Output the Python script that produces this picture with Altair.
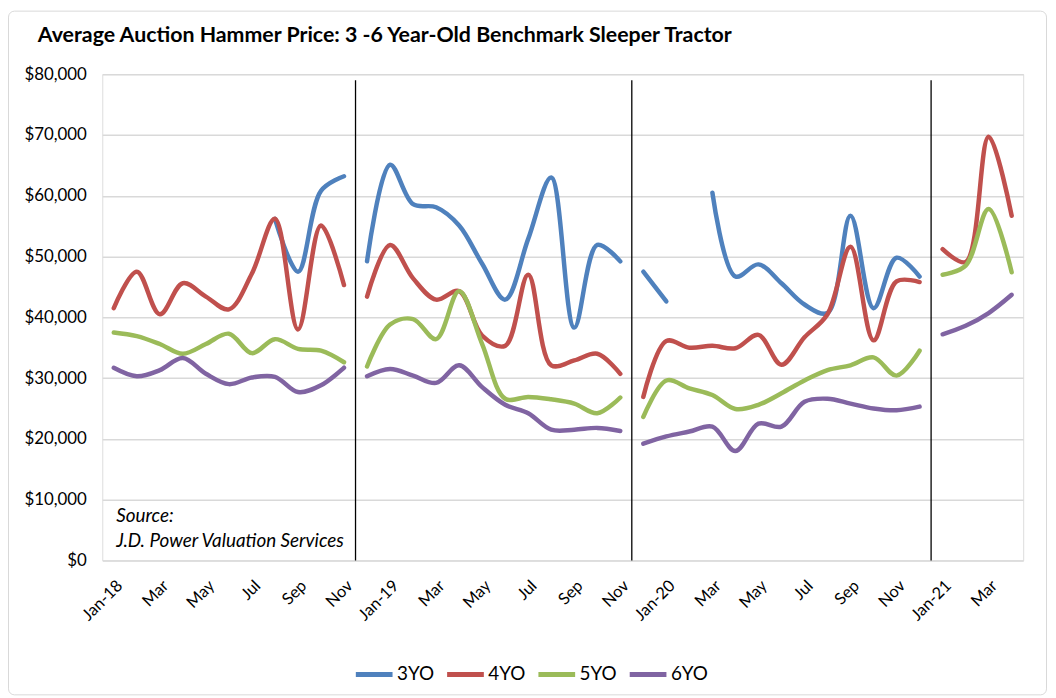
import altair as alt
import pandas as pd

series_names = ["3YO", "4YO", "5YO", "6YO"]
series_colors = ["#4F81BD", "#C0504D", "#9BBB59", "#8064A2"]
N = None

# values in $ thousands, month index 0 = Jan-18 ... 39 = Apr-21
yo3 = [N, N, N, N, N, N, N, 56.2, 47.5, 60.8, 63.2,
       49.2, 65.1, 58.6, 58.1, 55.1, 48.8, 42.9, 52.9, 63.0, 38.3, 51.9, 49.2,
       47.5, 42.6, N, 60.5, 46.7, 48.7, 45.6, 42.1, 40.7, 56.7, 41.5, 49.8, 46.7,
       N, N, N, N]
yo4 = [41.5, 47.5, 40.5, 45.6, 43.4, 41.3, 47.2, 56.2, 38.0, 55.1, 45.3,
       43.4, 51.9, 46.4, 42.9, 44.3, 37.0, 35.3, 47.0, 32.1, 32.9, 34.0, 30.7,
       26.9, 36.1, 35.0, 35.3, 34.9, 37.1, 32.2, 36.7, 40.5, 51.6, 36.2, 45.9, 45.8,
       51.2, 49.1, 69.7, 56.7]
yo5 = [37.5, 36.9, 35.6, 34.0, 35.6, 37.3, 34.1, 36.4, 34.8, 34.5, 32.6,
       31.9, 38.8, 39.7, 36.4, 44.3, 35.6, 26.6, 26.9, 26.5, 25.8, 24.2, 26.8,
       23.6, 29.6, 28.3, 27.2, 24.9, 25.6, 27.5, 29.6, 31.3, 32.1, 33.4, 30.4, 34.5,
       47.0, 48.5, 57.8, 47.4]
yo6 = [31.7, 30.3, 31.3, 33.3, 30.7, 29.0, 30.1, 30.2, 27.7, 28.8, 31.7,
       30.3, 31.5, 30.4, 29.2, 32.1, 28.5, 25.6, 24.2, 21.5, 21.5, 21.8, 21.3,
       19.2, 20.4, 21.2, 22.0, 18.0, 22.5, 22.0, 26.1, 26.6, 25.8, 25.0, 24.7, 25.3,
       37.2, 38.6, 40.7, 43.7]

segment_starts = [0, 11, 23, 36]
separators = [10.5, 22.5, 35.5]
tick_labels = ["Jan-18", "Mar", "May", "Jul", "Sep", "Nov",
               "Jan-19", "Mar", "May", "Jul", "Sep", "Nov",
               "Jan-20", "Mar", "May", "Jul", "Sep", "Nov",
               "Jan-21", "Mar"]

rows = []
for name, vals in zip(series_names, [yo3, yo4, yo5, yo6]):
    seg = 0
    prev_none = True
    for i, v in enumerate(vals):
        if v is None:
            prev_none = True
            continue
        if i in segment_starts or prev_none:
            seg += 1
        prev_none = False
        rows.append({"m": i, "value": v * 1000, "series": name, "seg": f"{name}-{seg}"})
df = pd.DataFrame(rows)

FONT = "Lato"
label_expr = "[" + ",".join(f"'{l}'" for l in tick_labels) + "][round(datum.value/2)]"

x_enc = alt.X("m:Q", scale=alt.Scale(domain=[-0.5, 39.5], nice=False, zero=False),
              axis=alt.Axis(values=list(range(0, 40, 2)), labelExpr=label_expr,
                            labelAngle=315, labelAlign="right", labelBaseline="top",
                            labelFontSize=16.5, labelColor="#000000", labelFont=FONT,
                            grid=False, ticks=False, domain=False, title=None,
                            labelPadding=17, labelOverlap=False))
y_enc = alt.Y("value:Q", scale=alt.Scale(domain=[0, 80000], nice=False),
              axis=alt.Axis(values=list(range(0, 80001, 10000)), format="$,.0f",
                            labelFontSize=17, labelColor="#000000", labelFont=FONT,
                            gridColor="#D9D9D9", gridWidth=1.5, domain=False,
                            ticks=False, title=None, labelPadding=16))

lines = alt.Chart(df).mark_line(interpolate="catmull-rom", strokeWidth=4.5,
                                strokeCap="round", strokeJoin="round").encode(
    x=x_enc,
    y=y_enc,
    color=alt.Color("series:N",
                    scale=alt.Scale(domain=series_names, range=series_colors),
                    legend=alt.Legend(orient="none", legendX=253, legendY=584,
                                      direction="horizontal", title=None,
                                      symbolType="stroke", symbolStrokeWidth=5,
                                      symbolSize=1369, labelFontSize=19,
                                      labelFont=FONT, labelColor="#000000",
                                      columnPadding=2, labelOffset=2)),
    detail="seg:N",
)

sep_df = pd.DataFrame({"pos": separators, "y0": [0] * 3, "y1": [79000] * 3})
rules = alt.Chart(sep_df).mark_rule(color="#000000", strokeWidth=1.3).encode(
    x="pos:Q", y="y0:Q", y2="y1:Q")

title = alt.Chart(pd.DataFrame({"t": ["Average Auction Hammer Price: 3 -6 Year-Old Benchmark Sleeper Tractor"]})).mark_text(
    align="left", baseline="alphabetic", font=FONT, fontSize=21.5, fontWeight="bold", color="#000000"
).encode(x=alt.value(-65), y=alt.value(-32), text="t:N")

source = alt.Chart(pd.DataFrame({"t": ["Source:", "J.D. Power Valuation Services"], "yy": [451, 476]})).mark_text(
    align="left", baseline="alphabetic", font=FONT, fontSize=19, fontStyle="italic", color="#000000"
).encode(x=alt.value(14), y=alt.Y("yy:Q", scale=None), text="t:N")

border = alt.Chart(pd.DataFrame({"a": [0]})).mark_rect(
    fill=None, stroke="#D9D9D9", strokeWidth=1, cornerRadius=6
).encode(x=alt.value(-94.5), x2=alt.value(951.5), y=alt.value(-63.5), y2=alt.value(625.5))

chart = alt.layer(border, lines, rules, title, source).properties(
    width=928, height=490,
    autosize=alt.AutoSizeParams(type="none"),
    padding={"left": 95, "top": 64, "right": 25, "bottom": 136},
).configure_view(stroke=None).configure(font=FONT)

chart.save("out.html", embed_options={"renderer": "svg", "actions": False})
